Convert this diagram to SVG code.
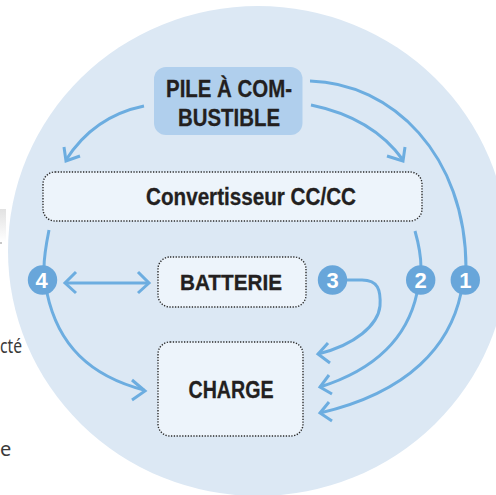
<svg xmlns="http://www.w3.org/2000/svg" width="496" height="495" viewBox="0 0 496 495">
<defs>
<linearGradient id="g" x1="0" y1="0" x2="0" y2="1"><stop offset="0" stop-color="#e2e2e2"/><stop offset="1" stop-color="#ffffff"/></linearGradient>
</defs>
<style>
.t{font-family:"Liberation Sans",Arial,sans-serif;font-weight:700;fill:#231f20;stroke:#231f20;stroke-width:.3;text-anchor:middle}
.box{fill:#edf4fb;stroke:#2b2b2b;stroke-width:1.4;stroke-dasharray:1.3 1.5}
.c{fill:none;stroke:#6cade0;stroke-width:3}
.b{fill:#68a6da}
.n{font-family:"Liberation Sans",Arial,sans-serif;font-weight:700;font-size:22px;fill:#fff;text-anchor:middle}
.s{font-family:"Noto Sans","Liberation Sans",sans-serif;font-size:20px;fill:#3a3a3a}
</style>
<rect x="0" y="209" width="6" height="33" fill="url(#g)"/>
<rect x="0" y="242" width="2" height="2" fill="#c8c8c8"/>
<ellipse cx="258" cy="251" rx="250" ry="245" fill="#dce8f4"/>
<text class="s" x="0" y="353" textLength="22" lengthAdjust="spacingAndGlyphs">cté</text>
<text class="s" x="0" y="456">e</text>
<g id="connectors">
<path class="c" d="M144 106C110 113 85 130 66 160"/><path class="c" d="M80 156L66 161L64 147"/>
<path class="c" d="M311 105C345 112 380 128 403 160"/><path class="c" d="M387 156L403 161L405 147"/>
<path class="c" d="M310 81C392 83 466 155 466 268"/>
<path class="c" d="M49 230C46 245 44 255 44 268"/>
<path class="c" d="M415 231C419 245 421 255 421 268"/>
<path class="c" d="M47 293C58 345 90 376 144 390"/><path class="c" d="M132 380L145 391L132 400"/>
<path class="c" d="M66 283H149"/><path class="c" d="M76 272L65 283L76 293"/><path class="c" d="M138 272L149 283L138 293"/>
<path class="c" d="M345 280H362C378 280 381 290 380 306C378 325 355 345 318 354"/><path class="c" d="M328 343L318 354L330 363"/>
<path class="c" d="M417 293C408 335 380 368 320 387"/><path class="c" d="M329 375L320 387L332 394"/>
<path class="c" d="M461 293C450 345 410 392 320 413"/><path class="c" d="M329 402L320 413L332 421"/>
</g>
<g id="node-pile"><rect x="154" y="67" width="148.500" height="68" rx="12" fill="#b0cfed"/>
<text class="t" font-size="24" x="229" y="97" textLength="126" lengthAdjust="spacingAndGlyphs">PILE À COM-</text>
<text class="t" font-size="24" x="229" y="126" textLength="102" lengthAdjust="spacingAndGlyphs">BUSTIBLE</text></g>
<g id="node-conv"><rect class="box" x="43" y="172" width="379" height="49" rx="12"/>
<text class="t" font-size="23" x="251" y="205" textLength="210" lengthAdjust="spacingAndGlyphs">Convertisseur CC/CC</text></g>
<g id="node-batt"><rect class="box" x="158" y="257" width="148" height="50" rx="12"/>
<text class="t" font-size="22" x="231" y="290" textLength="102" lengthAdjust="spacingAndGlyphs">BATTERIE</text></g>
<g id="node-charge"><rect class="box" x="158" y="342" width="145" height="94" rx="12"/>
<text class="t" font-size="24" x="231" y="398" textLength="85" lengthAdjust="spacingAndGlyphs">CHARGE</text></g>
<g id="badge-4"><circle class="b" cx="42.500" cy="280" r="14.700"/><text class="n" x="41.500" y="288">4</text></g>
<g id="badge-3"><circle class="b" cx="332.500" cy="280" r="14.700"/><text class="n" x="332.500" y="288">3</text></g>
<g id="badge-2"><circle class="b" cx="420.700" cy="280" r="14.700"/><text class="n" x="420.700" y="288">2</text></g>
<g id="badge-1"><circle class="b" cx="465.300" cy="280" r="14.700"/><text class="n" x="465.300" y="288">1</text></g>
</svg>
